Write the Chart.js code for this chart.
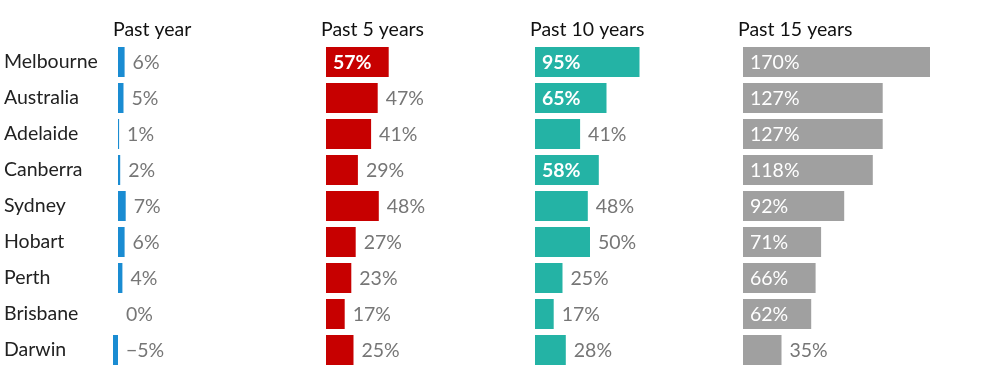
<!DOCTYPE html>
<html>
<head>
<meta charset="utf-8">
<script src="https://cdn.jsdelivr.net/npm/chart.js@4.4.1/dist/chart.umd.min.js"></script>
<style>
  html, body { margin: 0; padding: 0; background: #fff; }
  #wrap { width: 991px; height: 370px; }
</style>
</head>
<body>
<div id="wrap"><canvas id="growthChart"></canvas></div>
<script>
// Price growth by city over four periods, one column of bars per period.

const cities = ['Melbourne', 'Australia', 'Adelaide', 'Canberra', 'Sydney', 'Hobart', 'Perth', 'Brisbane', 'Darwin'];
const periods = ['Past year', 'Past 5 years', 'Past 10 years', 'Past 15 years'];
const pastYear = [6, 5, 1, 2, 7, 6, 4, 0, -5];
const past5Years = [57, 47, 41, 29, 48, 27, 23, 17, 25];
const past10Years = [95, 65, 41, 58, 48, 50, 25, 17, 28];
const past15Years = [170, 127, 127, 118, 92, 71, 66, 62, 35];

const series = [pastYear, past5Years, past10Years, past15Years];
const colours = ['#1a8cd2', '#c70000', '#24b3a5', '#a0a0a0'];
const fontFamily = 'Lato, "Noto Sans", sans-serif';
const fontSize = 19.5;

// every column uses the same px-per-percent so bars compare across periods
const pxPerPoint = 1.1;
const colWidths = [208, 209, 208, 253];
const lead = 5; // px of column before the zero line
const insideFrom = 55; // bigger bars carry their label inside

const datasets = series.map((values, i) => ({
    label: periods[i],
    data: values,
    xAxisID: 'x' + (i + 1),
    backgroundColor: colours[i],
    grouped: false,
    categoryPercentage: 1,
    barPercentage: 30 / 36
}));

const scales = {
    y: {
        position: 'left',
        grid: { display: false },
        border: { display: false },
        ticks: { crossAlign: 'far', color: '#222', font: { family: fontFamily, size: fontSize } },
        afterFit: (scale) => {
            scale.width = 109;
            scale.paddingTop = 0;
            scale.paddingBottom = 0;
        }
    }
};

// top boxes are laid out in reverse, so add the last period first
for (let i = periods.length - 1; i >= 0; i--) {
    scales['x' + (i + 1)] = {
        type: 'linear',
        axis: 'x',
        position: 'top',
        stack: 'periods',
        stackWeight: colWidths[i],
        min: -lead / pxPerPoint,
        max: (colWidths[i] - lead) / pxPerPoint,
        grid: { display: false },
        border: { display: false },
        ticks: { display: false },
        title: {
            display: true,
            text: periods[i],
            align: 'start',
            color: '#111',
            font: { family: fontFamily, size: fontSize },
            padding: { top: 18, bottom: 0 }
        },
        afterFit: (scale) => { scale.height = 44; }
    };
}

const valueLabels = {
    id: 'valueLabels',
    afterDatasetsDraw(chart) {
        const ctx = chart.ctx;
        ctx.save();
        ctx.textBaseline = 'middle';
        ctx.textAlign = 'left';
        chart.data.datasets.forEach((ds, di) => {
            chart.getDatasetMeta(di).data.forEach((bar, j) => {
                const v = ds.data[j];
                const text = (v < 0 ? '\u2212' + Math.abs(v) : v) + '%';
                if (v >= insideFrom) {
                    ctx.fillStyle = '#fff';
                    ctx.font = (di === 3 ? 'normal ' : 'bold ') + fontSize + 'px ' + fontFamily;
                    ctx.fillText(text, bar.base + 7, bar.y + 1);
                } else {
                    ctx.fillStyle = '#767676';
                    ctx.font = fontSize + 'px ' + fontFamily;
                    ctx.fillText(text, Math.max(bar.x, bar.base) + 8, bar.y + 1);
                }
            });
        });
        ctx.restore();
    }
};

new Chart(document.getElementById('growthChart'), {
    type: 'bar',
    data: { labels: cities, datasets: datasets },
    options: {
        indexAxis: 'y',
        responsive: true,
        maintainAspectRatio: false,
        animation: false,
        layout: { padding: { left: 4, right: 0, top: 0, bottom: 2 } },
        plugins: { legend: { display: false }, tooltip: { enabled: false } },
        scales: scales
    },
    plugins: [valueLabels]
});
</script>
</body>
</html>
